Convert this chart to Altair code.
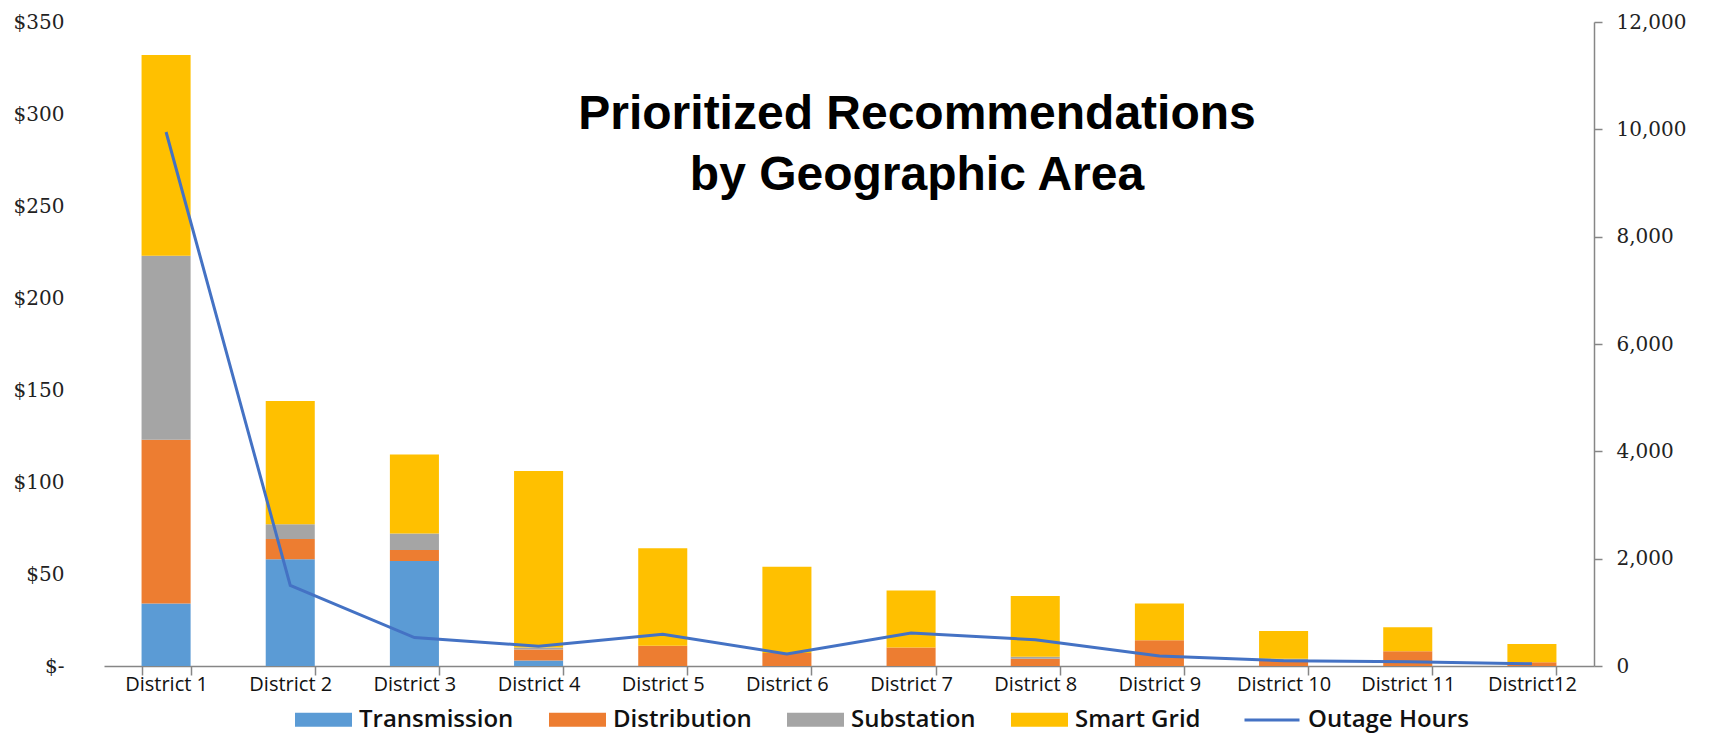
import altair as alt
import pandas as pd

districts = ["District 1", "District 2", "District 3", "District 4", "District 5", "District 6",
             "District 7", "District 8", "District 9", "District 10", "District 11", "District12"]
transmission = [34, 58, 57, 3, 0, 0, 0, 0, 0, 0, 0, 0]
distribution = [89, 11, 6, 6, 11, 7, 10, 4, 14, 3, 8, 2]
substation = [100, 8, 9, 1, 0, 0, 0, 1, 0, 1, 0, 0]
smart_grid = [109, 67, 43, 96, 53, 47, 31, 33, 20, 15, 13, 10]
outage_hours = [9950, 1500, 530, 370, 590, 225, 615, 490, 185, 100, 80, 40]

categories = ["Transmission", "Distribution", "Substation", "Smart Grid"]
cat_colors = ["#5B9BD5", "#ED7D31", "#A5A5A5", "#FFC000"]
series = [transmission, distribution, substation, smart_grid]

rows = []
for ci, (cat, vals) in enumerate(zip(categories, series)):
    for d, v in zip(districts, vals):
        rows.append({"District": d, "Category": cat, "Cost": v, "idx": ci})
bars_df = pd.DataFrame(rows)
line_df = pd.DataFrame({"District": districts, "Outage": outage_hours})

FONT_SANS = "Open Sans"
FONT_SERIF = "DejaVu Serif"

x_enc = alt.X("District:N", sort=districts, title=None,
              scale=alt.Scale(paddingInner=0.605, paddingOuter=0.3025),
              axis=alt.Axis(labelAngle=0, tickBand="extent", tickSize=9, labelPadding=-1,
                            domainColor="#868686", tickColor="#868686", domainWidth=1.5,
                            tickWidth=1.5, labelFont=FONT_SANS, labelFontSize=20,
                            labelColor="#111111", grid=False))

bars = alt.Chart(bars_df).mark_bar().encode(
    x=x_enc,
    y=alt.Y("sum(Cost):Q", title=None,
            scale=alt.Scale(domain=[0, 350], nice=False),
            axis=alt.Axis(orient="left", values=[0, 50, 100, 150, 200, 250, 300, 350],
                          labelExpr="datum.value == 0 ? '$-\u00a0\u00a0' : '$' + datum.value",
                          domain=False, ticks=False, grid=False, labelPadding=40,
                          labelFont=FONT_SERIF, labelFontSize=20, labelColor="#222222")),
    color=alt.Color("Category:N", sort=categories,
                    scale=alt.Scale(domain=categories, range=cat_colors),
                    legend=alt.Legend(title=None, orient="none", direction="horizontal",
                                      legendX=191, legendY=669, padding=0,
                                      symbolType="M-1,-0.245H1V0.245H-1Z", symbolSize=3249,
                                      symbolStrokeWidth=0, columnPadding=35, labelOffset=7,
                                      labelFont=FONT_SANS, labelFontSize=24,
                                      labelFontWeight=600, labelColor="#111111",
                                      labelLimit=400)),
    order=alt.Order("idx:Q", sort="ascending"),
)

line = alt.Chart(line_df).mark_line(strokeWidth=3).encode(
    x=alt.X("District:N", sort=districts),
    y=alt.Y("Outage:Q", title=None,
            scale=alt.Scale(domain=[0, 12000], nice=False),
            axis=alt.Axis(orient="right", values=[0, 2000, 4000, 6000, 8000, 10000, 12000],
                          format=",d", tickSize=8, labelPadding=14, grid=False,
                          domainColor="#868686", tickColor="#868686", domainWidth=1.5,
                          tickWidth=1.5, labelFont=FONT_SERIF, labelFontSize=20,
                          labelColor="#222222")),
    stroke=alt.Stroke("series:N",
                      scale=alt.Scale(domain=["Outage Hours"], range=["#4472C4"]),
                      legend=alt.Legend(title=None, orient="none", legendX=1139, legendY=669,
                                        padding=0, symbolType="stroke", symbolSize=3025,
                                        symbolStrokeWidth=3, labelOffset=7,
                                        labelFont=FONT_SANS, labelFontSize=24,
                                        labelFontWeight=600, labelColor="#111111",
                                        labelLimit=400)),
).transform_calculate(series="'Outage Hours'")

chart = alt.layer(bars, line).resolve_scale(y="independent").properties(
    width=1490,
    height=644,
    background="white",
    autosize=alt.AutoSizeParams(type="none"),
    padding={"left": 96, "top": 14, "right": 123, "bottom": 67},
    title=alt.TitleParams(
        text=["Prioritized Recommendations", "by Geographic Area"],
        anchor="middle", orient="top", offset=0, dy=188, dx=68, baseline="top",
        font="Liberation Sans", fontSize=48, fontWeight="bold", lineHeight=61,
        color="#000000"),
).configure_view(stroke=None)

chart.save("out.html", embed_options={"renderer": "svg", "actions": False})
